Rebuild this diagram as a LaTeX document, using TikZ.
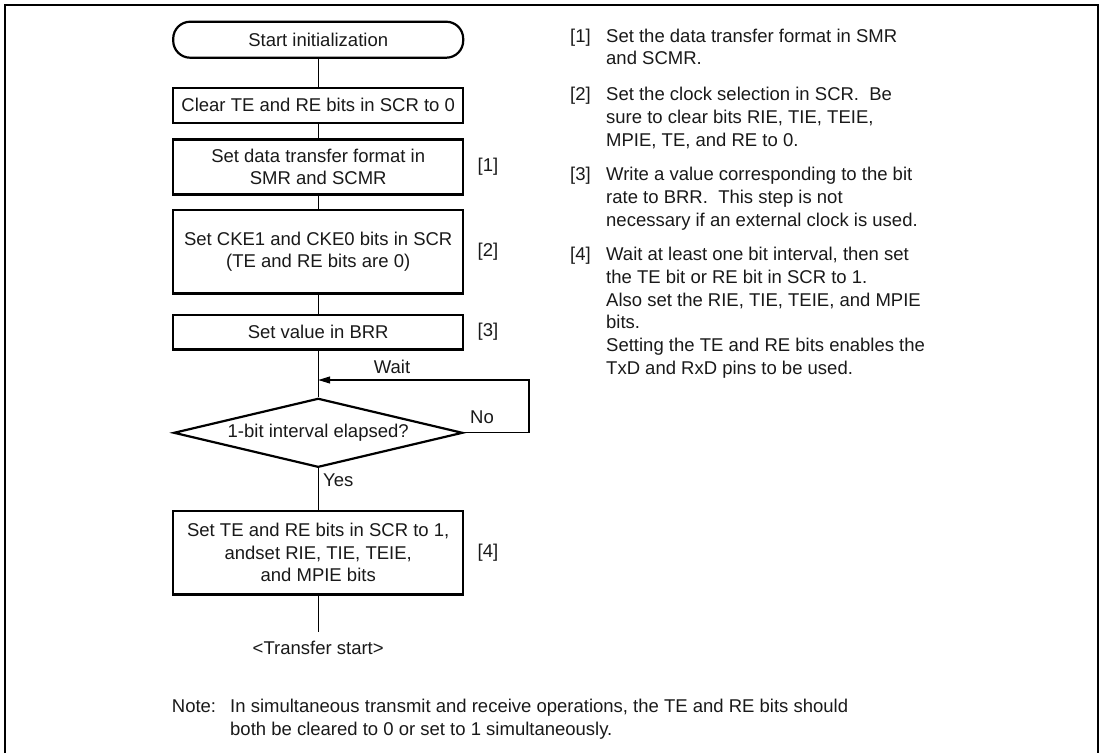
\documentclass[tikz,border=0pt]{standalone}
\usepackage{fontspec}
\setmainfont{Liberation Sans}
\usetikzlibrary{arrows.meta,shapes.geometric}
\newcommand\toplines[1]{\vtop{\halign{##\hfil\cr#1\crcr}}}
\begin{document}
\begin{tikzpicture}[x=1pt,y=-1pt,
  every node/.style={font=\fontsize{18.5}{22.75}\selectfont, text=black!90},
  procbox/.style={draw, line width=2.4pt, minimum width=290pt, inner sep=2pt, align=center},
  termbox/.style={draw, line width=2.2pt, rounded corners=17pt, minimum width=290pt, minimum height=36pt, inner sep=2pt},
  decbox/.style={draw, diamond, line width=2.2pt, minimum width=289pt, minimum height=69pt, inner sep=0pt, aspect=4.2},
  conn/.style={line width=1.2pt},
  plain/.style={inner sep=0pt},
  para/.style={inner sep=0pt, anchor=base west}]
\useasboundingbox (0,0) rectangle (1103,753);
\draw[line width=2pt] (5,753) -- (5,5) -- (1098,5) -- (1098,753);
% flowchart
\node[termbox] (start) at (318.2,39.7) {Start initialization};
\node[procbox, minimum height=35pt] (clr) at (318.2,105.2) {Clear TE and RE bits in SCR to 0};
\node[procbox, minimum height=55pt] (b1) at (318.2,166.8) {Set data transfer format in\\SMR and SCMR};
\node[procbox, minimum height=83.3pt] (b2) at (318.2,251.7) {Set CKE1 and CKE0 bits in SCR\\(TE and RE bits are 0)};
\node[procbox, minimum height=34.3pt] (b3) at (318.2,332.2) {Set value in BRR};
\node[decbox] (dec) at (318.2,432.8) {1-bit interval elapsed?};
\node[procbox, minimum height=83.6pt] (b4) at (318.2,552.5) {Set TE and RE bits in SCR to 1,\\andset RIE, TIE, TEIE,\\and MPIE bits};
\coordinate (endp) at (318.2,631.7);
\node[plain] (ts) at (318.2,647.5) {<Transfer start>};
\coordinate (nr) at (529,380);
\coordinate (wt) at (318.2,380);
\draw[conn] (start) -- (clr);
\draw[conn] (clr) -- (b1);
\draw[conn] (b1) -- (b2);
\draw[conn] (b2) -- (b3);
\draw[conn] (b3) -- (dec);
\draw[conn] (dec) -- (b4);
\draw[conn] (b4) -- (endp);
\draw[conn, -{Triangle[length=12pt,width=7pt]}] (dec.east) -- (dec.east -| nr) -- (nr) -- (wt);
\node[plain] (wait) at (392,367) {Wait};
\node[plain] (no) at (482,417) {No};
\node[plain, anchor=west] (yes) at (323,480) {Yes};
\node[plain] (l1) at (488,166.8) {[1]};
\node[plain] (l2) at (488,251.7) {[2]};
\node[plain] (l3) at (488,332.2) {[3]};
\node[plain] (l4) at (488,552.5) {[4]};
% right text
\node[para] (n1) at (570,42) {[1]};
\node[para] (t1) at (606,42) {\toplines{Set the data transfer format in SMR\cr and SCMR.}};
\node[para] (n2) at (570,100.7) {[2]};
\node[para] (t2) at (606,100.7) {\toplines{Set the clock selection in SCR.\ \ Be\cr sure to clear bits RIE, TIE, TEIE,\cr MPIE, TE, and RE to 0.}};
\node[para] (n3) at (570,180.7) {[3]};
\node[para] (t3) at (606,180.7) {\toplines{Write a value corresponding to the bit\cr rate to BRR.\ \ This step is not\cr necessary if an external clock is used.}};
\node[para] (n4) at (570,260.7) {[4]};
\node[para] (t4) at (606,260.7) {\toplines{Wait at least one bit interval, then set\cr the TE bit or RE bit in SCR to 1.\cr Also set the RIE, TIE, TEIE, and MPIE\cr bits.\cr Setting the TE and RE bits enables the\cr TxD and RxD pins to be used.}};
% note
\node[para] (nl) at (171.7,712.7) {Note:};
\node[para] (nt) at (230,712.7) {\toplines{In simultaneous transmit and receive operations, the TE and RE bits should\cr both be cleared to 0 or set to 1 simultaneously.}};
\end{tikzpicture}
\end{document}
